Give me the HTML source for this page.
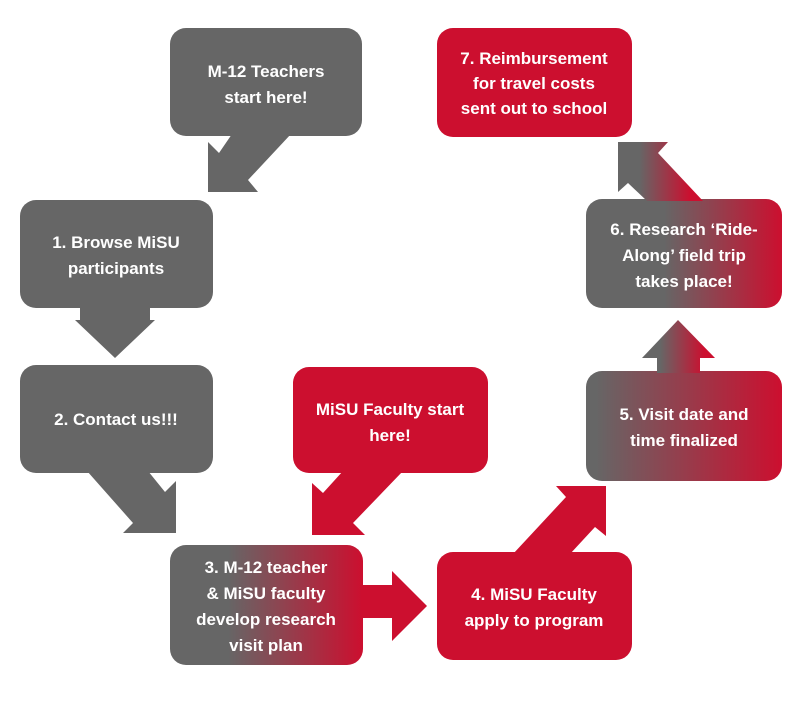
<!DOCTYPE html>
<html><head><meta charset="utf-8"><style>
html,body{margin:0;padding:0;background:#fff}
svg{display:block}
text{font-family:"Liberation Sans",Arial,sans-serif;font-weight:bold;font-size:17px;fill:#fff;text-anchor:middle}
</style></head><body>
<svg width="802" height="720" viewBox="0 0 802 720" xmlns="http://www.w3.org/2000/svg">
<defs>
<linearGradient id="g" x1="0" y1="0" x2="1" y2="0">
<stop offset="0.3" stop-color="#666666"/><stop offset="1" stop-color="#CC0F2F"/>
</linearGradient>
<linearGradient id="g6" x1="0" y1="0" x2="1" y2="0">
<stop offset="0.4" stop-color="#666666"/><stop offset="1" stop-color="#CC0F2F"/>
</linearGradient>
<linearGradient id="g5" x1="0" y1="0" x2="1" y2="0">
<stop offset="0.05" stop-color="#666666"/><stop offset="1" stop-color="#CC0F2F"/>
</linearGradient>
<linearGradient id="ga" x1="0" y1="0" x2="1" y2="0">
<stop offset="0.25" stop-color="#666666"/><stop offset="0.85" stop-color="#CC0F2F"/>
</linearGradient>
</defs>
<rect x="170" y="28" width="192" height="108" rx="16" fill="#666"/>
<polygon points="232,134 291,134 248,180 258,192 208,192 208,142 219,153" fill="#666"/>
<text x="266" y="77">M-12 Teachers</text>
<text x="266" y="103">start here!</text>
<rect x="20" y="200" width="193" height="108" rx="16" fill="#666"/>
<text x="116" y="248">1.  Browse MiSU</text>
<text x="116" y="274">participants</text>
<polygon points="80,306 150,306 150,320 155,320 115,358 75,320 80,320" fill="#666"/>
<rect x="20" y="365" width="193" height="108" rx="16" fill="#666"/>
<text x="116" y="425">2.  Contact us!!!</text>
<polygon points="87,471 148,471 165,492 176,481 176,533 123,533 133,523" fill="#666"/>
<rect x="293" y="367" width="195" height="106" rx="16" fill="#CC0F2F"/>
<text x="390" y="415">MiSU Faculty start</text>
<text x="390" y="441">here!</text>
<polygon points="343,471 403,471 353,523 365,535 312,535 312,483 323,493" fill="#CC0F2F"/>
<rect x="170" y="545" width="193" height="120" rx="16" fill="url(#g)"/>
<text x="266" y="573">3.  M-12 teacher</text>
<text x="266" y="599">&amp; MiSU faculty</text>
<text x="266" y="625">develop research</text>
<text x="266" y="651">visit plan</text>
<polygon points="361,585 392,585 392,571 427,606 392,641 392,618 361,618" fill="#CC0F2F"/>
<rect x="437" y="552" width="195" height="108" rx="16" fill="#CC0F2F"/>
<text x="534" y="600">4.  MiSU Faculty</text>
<text x="534" y="626">apply to program</text>
<polygon points="513,554 566,497 556,486 606,486 606,536 595,527 570,554" fill="#CC0F2F"/>
<rect x="586" y="371" width="196" height="110" rx="16" fill="url(#g5)"/>
<text x="684" y="420">5.  Visit date and</text>
<text x="684" y="446">time finalized</text>
<polygon points="657,373 700,373 700,358 715,358 678,320 642,358 657,358" fill="url(#ga)"/>
<rect x="586" y="199" width="196" height="109" rx="16" fill="url(#g6)"/>
<text x="684" y="235">6.  Research ‘Ride-</text>
<text x="684" y="261">Along’ field trip</text>
<text x="684" y="287">takes place!</text>
<polygon points="647,201 703,201 658,153 668,142 618,142 618,192 628,183" fill="url(#ga)"/>
<rect x="437" y="28" width="195" height="109" rx="16" fill="#CC0F2F"/>
<text x="534" y="64">7. Reimbursement</text>
<text x="534" y="89">for travel costs</text>
<text x="534" y="114">sent out to school</text>
</svg>
</body></html>
